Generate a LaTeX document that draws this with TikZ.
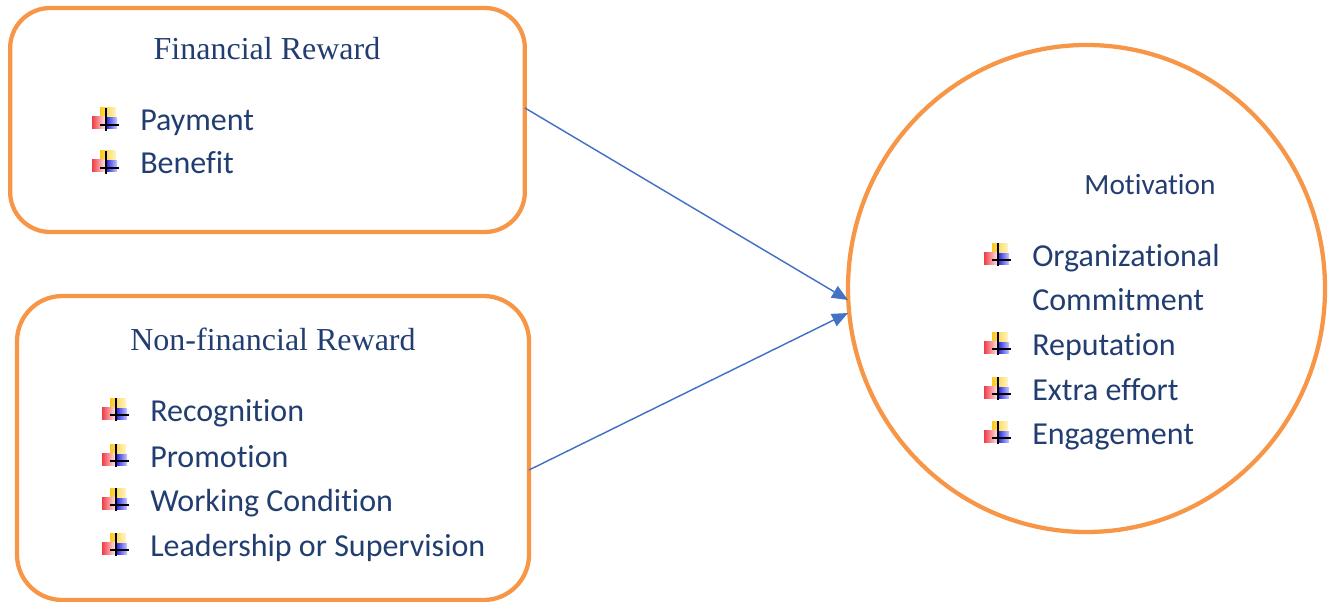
\documentclass[tikz,border=0pt]{standalone}
\usepackage{fontspec}
\setmainfont{Liberation Serif}
\newfontfamily\bodyfont[Ligatures=NoCommon]{Carlito}
\usetikzlibrary{arrows.meta,shapes.geometric}
\definecolor{txt}{RGB}{34,62,112}
\definecolor{orng}{RGB}{247,150,70}
\definecolor{arr}{RGB}{68,114,196}
\begin{document}
\begin{tikzpicture}[x=0.75pt,y=-0.75pt,
  frame/.style={draw=orng,line width=3.2pt,inner sep=0pt},
  ttl/.style={text=txt,font=\fontsize{24pt}{28pt}\selectfont,inner sep=0pt},
  item/.style={text=txt,font=\bodyfont\fontsize{24pt}{28pt}\selectfont,anchor=base west,inner sep=0pt},
  conn/.style={draw=arr,line width=1.1pt,-{Triangle[length=12pt,width=10pt]}},
  bul/.pic={
    \shade[left color={rgb,255:red,250;green,200;blue,30},right color={rgb,255:red,255;green,246;blue,200}] (-5,-12) rectangle (11,-1);
    \shade[left color={rgb,255:red,240;green,60;blue,70},right color={rgb,255:red,255;green,225;blue,228}] (-13,-3) rectangle (0,9);
    \shade[left color={rgb,255:red,20;green,20;blue,220},right color={rgb,255:red,200;green,200;blue,255}] (0,-2) rectangle (12,9);
    \draw[black,line width=1.6pt] (1,-12) -- (1,11);
    \draw[black,line width=1.2pt] (-5,5) -- (14,5);
  }]
\useasboundingbox (0,0) rectangle (1333,602);

% frames
\node[frame,rounded corners=30pt,minimum width=386pt,minimum height=168pt] (box1) at (267.5,120) {};
\node[frame,rounded corners=34pt,minimum width=384pt,minimum height=228pt] (box2) at (273,448) {};
\node[frame,ellipse,minimum width=357.75pt,minimum height=365.25pt] (mot) at (1086.5,288.5) {};

% titles
\node[ttl,anchor=base] (t1) at (267,60) {Financial Reward};
\node[ttl,anchor=base] (t2) at (273,350) {Non-financial Reward};
\node[item,anchor=base,font=\bodyfont\fontsize{22pt}{26pt}\selectfont] (t3) at (1150,195) {Motivation};

% financial items
\node[item] (p1) at (140,131) {Payment};
\node[item] (p2) at (140,174) {Benefit};
\pic at (105,120) {bul};
\pic at (105,163) {bul};

% non-financial items
\node[item] (n1) at (150,421) {Recognition};
\node[item] (n2) at (150,467) {Promotion};
\node[item] (n3) at (150,511) {Working Condition};
\node[item] (n4) at (150,556) {Leadership or Supervision};
\pic at (115,410) {bul};
\pic at (115,456) {bul};
\pic at (115,500) {bul};
\pic at (115,545) {bul};

% motivation items
\node[item] (m1) at (1032,266) {Organizational};
\node[item] (m1b) at (1032,310) {Commitment};
\node[item] (m2) at (1032,355) {Reputation};
\node[item] (m3) at (1032,400) {Extra effort};
\node[item] (m4) at (1032,444) {Engagement};
\pic at (997,255) {bul};
\pic at (997,344) {bul};
\pic at (997,389) {bul};
\pic at (997,433) {bul};

% connectors
\coordinate (s1) at (525,108);
\coordinate (e1) at (848,300);
\coordinate (s2) at (529,470);
\coordinate (e2) at (848,313);
\draw[conn] (s1) -- (e1);
\draw[conn] (s2) -- (e2);
\end{tikzpicture}
\end{document}
